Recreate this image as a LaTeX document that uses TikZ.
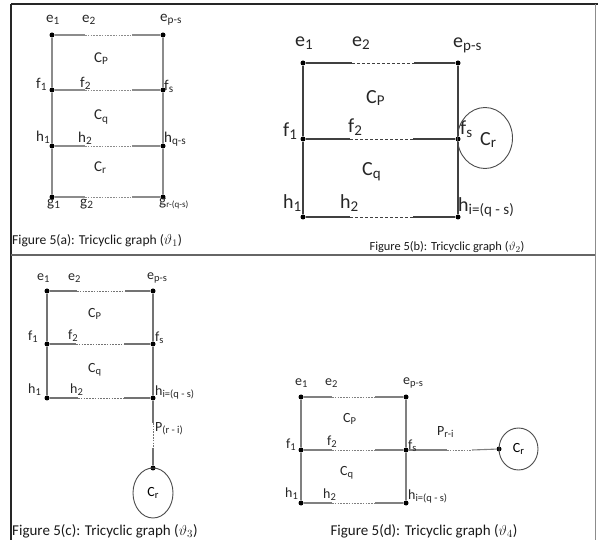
\documentclass[tikz,border=0pt]{standalone}
\usepackage{fontspec}
\setmainfont{Carlito}
\usepackage{graphicx}
\usetikzlibrary{shapes.geometric}
\newcommand{\lb}[3][0.75]{#2\raisebox{-0.3ex}{\scalebox{#1}{#3}}}
\newcommand{\dashrow}[5]{%
  \draw[#1] (#2) -- (#4);
  \draw[#1,dsh] (#4) -- (#5);
  \draw[#1] (#5) -- (#3);}
\tikzset{
  dot/.style={circle, fill=black, inner sep=0pt, minimum size=5pt},
  dsh/.style={dash pattern=on 1.6pt off 1.2pt, line width=0.8pt},
  dshB/.style={dash pattern=on 3pt off 2pt, line width=0.9pt},
  edgeA/.style={draw=black!45, line width=1.1pt},
  edgeB/.style={draw=black!75, line width=1.1pt},
  edgeC/.style={draw=black!55, line width=1.1pt},
  edgeD/.style={draw=black!50, line width=1.1pt},
  lab/.style={anchor=west, inner sep=0pt, text=black!85},
  labA/.style={lab, font=\fontsize{15}{15}\selectfont},
  labB/.style={lab, font=\fontsize{20}{20}\selectfont},
  labC/.style={lab, font=\fontsize{14}{14}\selectfont},
  labD/.style={lab, font=\fontsize{14}{14}\selectfont},
  captext/.style={inner sep=0pt, text=black!90},
  ring/.style={draw=black!70, line width=0.9pt, ellipse, inner sep=0pt}
}
\begin{document}
\begin{tikzpicture}[x=1pt,y=-1pt]
\useasboundingbox (0,0) rectangle (598,540);
% frame
\draw[black!85, line width=1.3pt] (11,4) -- (598,4);
\draw[black!85, line width=1.2pt] (11,4) -- (11,540);
\draw[black!45, line width=1pt] (595,4) -- (595,540);
\draw[black!60, line width=1.8pt] (11,255) -- (595,255);

% ---------------- (a)
\node[dot] (a-e1) at (52,35) {};
\node[dot] (a-ep) at (163,35) {};
\node[dot] (a-f1) at (52,90) {};
\node[dot] (a-fs) at (163,90) {};
\node[dot] (a-h1) at (52,146) {};
\node[dot] (a-hq) at (163,146) {};
\node[dot] (a-g1) at (52,197) {};
\node[dot] (a-gr) at (163,197) {};
\coordinate (a-el) at (85,35);  \coordinate (a-er) at (132,35);
\coordinate (a-fl) at (85,90);  \coordinate (a-fr) at (132,90);
\coordinate (a-hl) at (85,146); \coordinate (a-hr) at (132,146);
\coordinate (a-gl) at (85,197); \coordinate (a-gr2) at (132,197);
\draw[edgeA] (a-e1) -- (a-f1) -- (a-h1) -- (a-g1);
\draw[edgeA] (a-ep) -- (a-fs) -- (a-hq) -- (a-gr);
\dashrow{edgeA}{a-e1}{a-ep}{a-el}{a-er}
\dashrow{edgeA}{a-f1}{a-fs}{a-fl}{a-fr}
\dashrow{edgeA}{a-h1}{a-hq}{a-hl}{a-hr}
\dashrow{edgeA}{a-g1}{a-gr}{a-gl}{a-gr2}
\node[labA] (la-e1) at (46,20) {\lb{e}{1}};
\node[labA] (la-e2) at (82,20) {\lb{e}{2}};
\node[labA] (la-ep) at (160,20) {\lb{e}{p-s}};
\node[labA] (la-cp) at (94,59) {\lb{C}{P}};
\node[labA] (la-f1) at (36,84) {\lb{f}{1}};
\node[labA] (la-f2) at (80,83) {\lb{f}{2}};
\node[labA] (la-fs) at (164,86) {\lb{f}{s}};
\node[labA] (la-cq) at (94,117) {\lb{C}{q}};
\node[labA] (la-h1) at (36,137) {\lb{h}{1}};
\node[labA] (la-h2) at (78,138) {\lb{h}{2}};
\node[labA] (la-hq) at (164,139) {\lb{h}{q-s}};
\node[labA] (la-cr) at (94,168) {\lb{C}{r}};
\node[labA] (la-g1) at (47,204) {\lb{g}{1}};
\node[labA] (la-g2) at (80,204) {\lb{g}{2}};
\node[labA] (la-gr) at (159,204) {\lb[0.6]{g}{r-(q-s)}};
\node[captext, anchor=west, font=\fontsize{13.6}{14}\selectfont] (capa) at (12,241) {Figure 5(a): Tricyclic graph ($\vartheta_1$)};

% ---------------- (b)
\node[dot] (b-e1) at (303,63) {};
\node[dot] (b-ep) at (458,63) {};
\node[dot] (b-f1) at (303,139) {};
\node[dot] (b-fs) at (458,139) {};
\node[dot] (b-h1) at (303,217) {};
\node[dot] (b-hi) at (458,217) {};
\coordinate (b-el) at (352,63);  \coordinate (b-er) at (414,63);
\coordinate (b-fl) at (350,139); \coordinate (b-fr) at (413,139);
\coordinate (b-hl) at (350,217); \coordinate (b-hr) at (413,217);
\draw[edgeB] (b-e1) -- (b-f1) -- (b-h1);
\draw[edgeB] (b-ep) -- (b-fs) -- (b-hi);
\draw[edgeB] (b-e1) -- (b-el); \draw[edgeB,dshB] (b-el) -- (b-er); \draw[edgeB] (b-er) -- (b-ep);
\draw[edgeB] (b-f1) -- (b-fl); \draw[edgeB,dshB] (b-fl) -- (b-fr); \draw[edgeB] (b-fr) -- (b-fs);
\draw[edgeB] (b-h1) -- (b-hl); \draw[edgeB,dshB] (b-hl) -- (b-hr); \draw[edgeB] (b-hr) -- (b-hi);
\node[ring, minimum width=55pt, minimum height=61pt] (b-ring) at (485,138) {};
\node[labB] (lb-e1) at (295,43) {\lb{e}{1}};
\node[labB] (lb-e2) at (352,43) {\lb{e}{2}};
\node[labB] (lb-ep) at (453,45) {\lb{e}{p-s}};
\node[labB] (lb-cp) at (366,98) {\lb{C}{P}};
\node[labB] (lb-f1) at (283,131) {\lb{f}{1}};
\node[labB] (lb-f2) at (348,127) {\lb{f}{2}};
\node[labB] (lb-fs) at (460,129) {\lb{f}{s}};
\node[labB] (lb-cr) at (480,140) {\lb{C}{r}};
\node[labB] (lb-cq) at (362,172) {\lb{C}{q}};
\node[labB] (lb-h1) at (283,203) {\lb{h}{1}};
\node[labB] (lb-h2) at (340,203) {\lb{h}{2}};
\node[labB] (lb-hi) at (458,207) {\lb{h}{i=(q - s)}};
\node[captext, font=\fontsize{12.4}{13}\selectfont] (capb) at (447,247) {Figure 5(b): Tricyclic graph ($\vartheta_2$)};

% ---------------- (c)
\node[dot] (c-e1) at (47,291) {};
\node[dot] (c-ep) at (153,291) {};
\node[dot] (c-f1) at (47,344) {};
\node[dot] (c-fs) at (153,344) {};
\node[dot] (c-h1) at (47,398) {};
\node[dot] (c-hi) at (153,398) {};
\node[dot] (c-cd) at (153,468) {};
\coordinate (c-el) at (77,291);  \coordinate (c-er) at (125,291);
\coordinate (c-fl) at (76,344);  \coordinate (c-fr) at (124,344);
\coordinate (c-hl) at (78,398);  \coordinate (c-hr) at (124,398);
\coordinate (c-pt) at (153,423); \coordinate (c-pb) at (153,448);
\draw[edgeC] (c-e1) -- (c-f1) -- (c-h1);
\draw[edgeC] (c-ep) -- (c-fs) -- (c-hi);
\dashrow{edgeC}{c-e1}{c-ep}{c-el}{c-er}
\dashrow{edgeC}{c-f1}{c-fs}{c-fl}{c-fr}
\dashrow{edgeC}{c-h1}{c-hi}{c-hl}{c-hr}
\dashrow{edgeC}{c-hi}{c-cd}{c-pt}{c-pb}
\node[ring, minimum width=40pt, minimum height=50pt, font=\fontsize{14}{14}\selectfont] (c-ring) at (153,493) {\lb{C}{r}};
\node[labC] (lc-e1) at (37,278) {\lb{e}{1}};
\node[labC] (lc-e2) at (68,278) {\lb{e}{2}};
\node[labC] (lc-ep) at (147,278) {\lb{e}{p-s}};
\node[labC] (lc-cp) at (88,314) {\lb{C}{P}};
\node[labC] (lc-f1) at (28,337) {\lb{f}{1}};
\node[labC] (lc-f2) at (68,336) {\lb{f}{2}};
\node[labC] (lc-fs) at (155,338) {\lb{f}{s}};
\node[labC] (lc-cq) at (88,370) {\lb{C}{q}};
\node[labC] (lc-h1) at (28,390) {\lb{h}{1}};
\node[labC] (lc-h2) at (70,390) {\lb{h}{2}};
\node[labC] (lc-hi) at (155,392) {\lb{h}{i=(q - s)}};
\node[labC] (lc-p) at (155,429) {\lb{P}{(r - i)}};
\node[captext, anchor=west, font=\fontsize{15}{15}\selectfont] (capc) at (12,531) {Figure 5(c): Tricyclic graph ($\vartheta_3$)};

% ---------------- (d)
\node[dot] (d-e1) at (301,397) {};
\node[dot] (d-ep) at (406,397) {};
\node[dot] (d-f1) at (301,450) {};
\node[dot] (d-fs) at (406,450) {};
\node[dot] (d-h1) at (301,503) {};
\node[dot] (d-hi) at (406,503) {};
\node[dot] (d-cd) at (499,449) {};
\coordinate (d-el) at (332,397);  \coordinate (d-er) at (375,397);
\coordinate (d-fl) at (332,450);  \coordinate (d-fr) at (375,450);
\coordinate (d-hl) at (332,503);  \coordinate (d-hr) at (375,503);
\coordinate (d-pl) at (447,450);  \coordinate (d-pr) at (472,450);
\draw[edgeD] (d-e1) -- (d-f1) -- (d-h1);
\draw[edgeD] (d-ep) -- (d-fs) -- (d-hi);
\dashrow{edgeD}{d-e1}{d-ep}{d-el}{d-er}
\dashrow{edgeD}{d-f1}{d-fs}{d-fl}{d-fr}
\dashrow{edgeD}{d-h1}{d-hi}{d-hl}{d-hr}
\dashrow{edgeD}{d-fs}{d-cd}{d-pl}{d-pr}
\node[ring, minimum width=39pt, minimum height=42pt, font=\fontsize{14}{14}\selectfont] (d-ring) at (518.5,449) {\lb{C}{r}};
\node[labD] (ld-e1) at (295,383) {\lb{e}{1}};
\node[labD] (ld-e2) at (325,383) {\lb{e}{2}};
\node[labD] (ld-ep) at (403,383) {\lb{e}{p-s}};
\node[labD] (ld-cp) at (343,419) {\lb{C}{P}};
\node[labD] (ld-f1) at (286,445) {\lb{f}{1}};
\node[labD] (ld-f2) at (327,442) {\lb{f}{2}};
\node[labD] (ld-fs) at (408,446) {\lb{f}{s}};
\node[labD] (ld-p) at (437,432) {\lb{P}{r-i}};
\node[labD] (ld-cq) at (340,473) {\lb{C}{q}};
\node[labD] (ld-h1) at (285,494) {\lb{h}{1}};
\node[labD] (ld-h2) at (323,495) {\lb{h}{2}};
\node[labD] (ld-hi) at (408,496) {\lb{h}{i=(q - s)}};
\node[captext, font=\fontsize{15}{15}\selectfont] (capd) at (424,531) {Figure 5(d): Tricyclic graph ($\vartheta_4$)};
\end{tikzpicture}
\end{document}
